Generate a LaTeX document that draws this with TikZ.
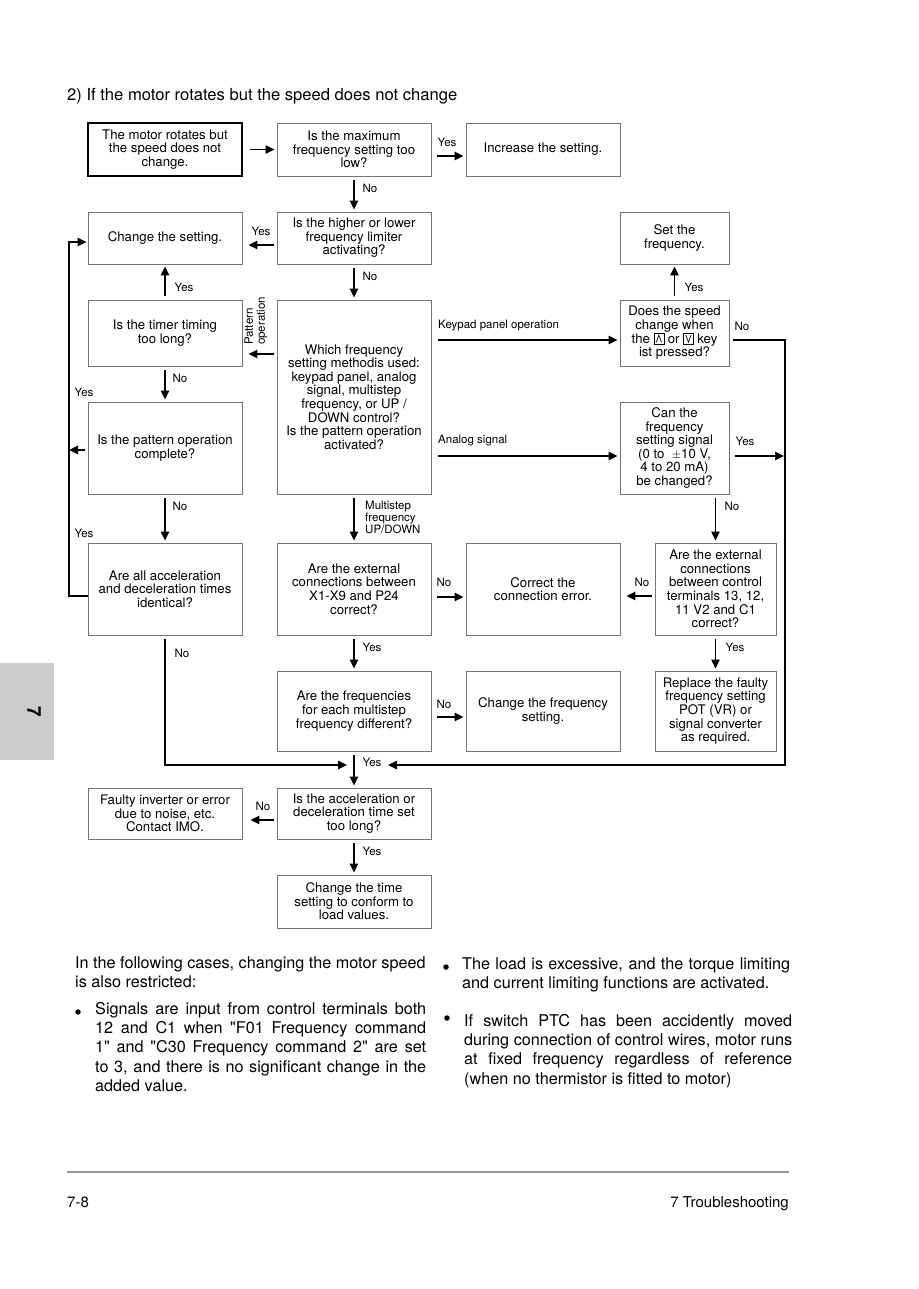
\documentclass[tikz,border=0pt]{standalone}
\usepackage{fontspec}
\setmainfont{TeX Gyre Heros}
\newfontfamily\qfont{TeX Gyre Heros}
\usepackage{tikz}
\usetikzlibrary{calc,arrows.meta}

\newcommand{\kbox}[1]{\tikz[baseline=0pt,x=1pt,y=1pt]{\draw[line width=0.5pt] (0,-1) rectangle (10,10); \draw[line width=0.7pt] #1;}}
\newcommand{\kup}{\kbox{(2.4,1) -- (5,8) -- (7.6,1)}}
\newcommand{\kdown}{\kbox{(2.4,8) -- (5,1) -- (7.6,8)}}
\newcommand{\dq}{{\qfont"}}
\newcommand{\jline}[1]{\makebox[331pt][s]{#1}}
\newcommand{\rline}[1]{\makebox[328pt][s]{#1}}

\tikzset{
  box/.style={draw=black!55,line width=0.9pt,align=center,inner sep=1pt,font=\fontsize{13.2}{13.6}\selectfont},
  lbl/.style={font=\fontsize{11.5}{12}\selectfont,inner sep=1pt},
  arr/.style={line width=1.4pt,-{Triangle[length=9pt,width=8.5pt]},shorten <=4pt,shorten >=2pt},
  para/.style={font=\fontsize{16.2}{19.4}\selectfont,inner sep=0pt,align=left},
  dot/.style={circle,fill,inner sep=0pt,minimum size=5.5pt},
  foot/.style={font=\fontsize{15}{15}\selectfont,inner sep=0pt}
}

\begin{document}
\begin{tikzpicture}[x=1pt,y=-1pt]
  \useasboundingbox (0,0) rectangle (918,1289);
  \fill[black!20] (0,663) rectangle (54,760);
  \node[font=\fontsize{19}{19}\selectfont\bfseries,rotate=-90] (tab) at (34,712) {7};
  \node[anchor=base west,inner sep=0pt,font=\fontsize{16.6}{20}\selectfont] (title) at (67,101) {2)\ If the motor rotates but the speed does not change};

  \node[box,draw=black,line width=1.8pt,minimum width=154pt,minimum height=53pt] (mot) at (165,149.5) {The motor rotates but\\the speed does not\\change.};
  \node[box,minimum width=154pt,minimum height=53pt] (qmax) at (354,149.5) {Is the maximum\\frequency setting too\\low?};
  \node[box,minimum width=154pt,minimum height=53pt] (incr) at (543,149.5) {Increase the setting.};
  \node[box,minimum width=154pt,minimum height=52pt] (chg) at (165,238) {Change the setting.};
  \node[box,minimum width=154pt,minimum height=52pt] (lim) at (354,238) {Is the higher or lower\\frequency limiter\\activating?};
  \node[box,minimum width=109pt,minimum height=52pt] (setf) at (674.5,238) {Set the\\frequency.};
  \node[box,minimum width=154pt,minimum height=66pt] (timer) at (165,333) {Is the timer timing\\too long?};
  \node[box,minimum width=154pt,minimum height=194pt] (which) at (354,397) {Which frequency\\setting methodis used:\\keypad panel, analog\\signal, multistep\\frequency, or UP /\\DOWN control?\\Is the pattern operation\\activated?};
  \node[box,minimum width=109pt,minimum height=66pt] (spd) at (674.5,333) {Does the speed\\change when\\the \kup{} or \kdown{} key\\ist pressed?};
  \node[box,minimum width=154pt,minimum height=92pt] (patt) at (165,448) {Is the pattern operation\\complete?};
  \node[box,minimum width=109pt,minimum height=92pt] (canf) at (674.5,448) {Can the\\frequency\\setting signal\\(0 to \ $\pm$10 V,\\4 to 20 mA)\\be changed?};
  \node[box,minimum width=154pt,minimum height=92pt] (accel) at (165,589) {Are all acceleration\\and deceleration times\\identical?};
  \node[box,minimum width=154pt,minimum height=92pt] (ext) at (354,589) {Are the external\\connections between\\X1-X9 and P24\\correct?};
  \node[box,minimum width=154pt,minimum height=92pt] (cerr) at (543,589) {Correct the\\connection error.};
  \node[box,minimum width=121pt,minimum height=92pt] (ctrl) at (715.5,589) {Are the external\\connections\\between control\\terminals 13, 12,\\11 V2 and C1\\correct?};
  \node[box,minimum width=154pt,minimum height=80pt] (mfreq) at (354,711) {Are the frequencies\\for each multistep\\frequency different?};
  \node[box,minimum width=154pt,minimum height=80pt] (cfreq) at (543,711) {Change the frequency\\setting.};
  \node[box,minimum width=121pt,minimum height=80pt] (repl) at (715.5,711) {Replace the faulty\\frequency setting\\POT (VR) or\\signal converter\\as required.};
  \node[box,minimum width=154pt,minimum height=51pt] (flt) at (165,813.5) {Faulty inverter or error\\due to noise, etc.\\Contact IMO.};
  \node[box,minimum width=154pt,minimum height=51pt] (acct) at (354,813.5) {Is the acceleration or\\deceleration time set\\too long?};
  \node[box,minimum width=154pt,minimum height=53pt] (tset) at (354,901.5) {Change the time\\setting to conform to\\load values.};

  \coordinate (lx) at (69,0);
  \coordinate (rx) at (785,0);
  \coordinate (jn) at (354,765);

  \path[arr] (mot) edge[shorten <=7pt] (qmax)
    (qmax) edge (lim) (lim) edge (which) (timer) edge (chg) (spd) edge (setf)
    (timer) edge (patt) (patt) edge (accel) (which) edge (ext)
    (ext) edge (mfreq) (ctrl) edge (repl) (mfreq) edge (acct) (acct) edge (tset)
    (canf.south -| ctrl) edge (ctrl)
    ([yshift=-6.5pt]qmax.east) edge[shorten <=6pt] ([yshift=-6.5pt]incr.west)
    ([yshift=-7pt]lim.west) edge[shorten <=3pt,shorten >=6pt] ([yshift=-7pt]chg.east)
    ([yshift=-21pt]timer.east -| which.west) edge[shorten <=3pt,shorten >=6pt] ([yshift=-21pt]timer.east)
    ([yshift=-7pt]spd.west -| which.east) edge[shorten <=7pt] ([yshift=-7pt]spd.west)
    ([yshift=-8pt]canf.west -| which.east) edge[shorten <=7pt] ([yshift=-8pt]canf.west)
    ([yshift=-8pt]canf.east) edge[shorten <=6pt,shorten >=1pt] ([yshift=-8pt]canf.east -| rx)
    ([yshift=-8pt]ext.east) edge[shorten <=6pt] ([yshift=-8pt]cerr.west)
    ([yshift=-7pt]ctrl.west) edge[shorten <=3pt,shorten >=6pt] ([yshift=-7pt]cerr.east)
    ([yshift=-6pt]mfreq.east) edge[shorten <=6pt] ([yshift=-6pt]cfreq.west)
    ([yshift=-6.5pt]acct.west) edge[shorten <=3pt,shorten >=8pt] ([yshift=-6.5pt]flt.east)
    ([yshift=-2pt]patt.west) edge[shorten <=3pt,shorten >=0pt] ([yshift=-2pt]patt.west -| lx);
  \draw[arr,shorten >=34pt] ([yshift=-7pt]spd.east) -- ([yshift=-7pt]spd.east -| rx) |- (jn);
  \draw[arr,shorten >=7pt] (accel.south) |- (jn);
  \draw[arr,shorten <=0pt,shorten >=1pt] ([yshift=-7pt]accel.west) -- ([yshift=-7pt]accel.west -| lx) |- ([yshift=-4pt]chg.west);

  \node[lbl] (y1) at (447,142) {Yes};
  \node[lbl] (n1) at (370,188) {No};
  \node[lbl] (y2) at (261,231) {Yes};
  \node[lbl] (n2) at (370,276) {No};
  \node[lbl] (y3) at (184,287) {Yes};
  \node[lbl] (y4) at (694,287) {Yes};
  \node[lbl,rotate=90,align=left,font=\fontsize{11.5}{12}\selectfont] (pat) at (256,321) {Pattern\\operation};
  \node[lbl,anchor=west] (kp) at (437,326) {Keypad panel operation};
  \node[lbl] (n3) at (742,326) {No};
  \node[lbl] (n4) at (180,378) {No};
  \node[lbl] (y5) at (84,392) {Yes};
  \node[lbl,anchor=west] (an) at (437,441) {Analog signal};
  \node[lbl] (y6) at (745,441) {Yes};
  \node[lbl] (n5) at (180,506) {No};
  \node[lbl,anchor=north west,align=left] (ms) at (364,500) {Multistep\\frequency\\UP/DOWN};
  \node[lbl] (n6) at (732,506) {No};
  \node[lbl] (y7) at (84,533) {Yes};
  \node[lbl] (n7) at (444,582) {No};
  \node[lbl] (n8) at (642,582) {No};
  \node[lbl] (y8) at (372,647) {Yes};
  \node[lbl] (y9) at (735,647) {Yes};
  \node[lbl] (n9) at (182,653) {No};
  \node[lbl] (n10) at (444,704) {No};
  \node[lbl] (y10) at (372,762) {Yes};
  \node[lbl] (n11) at (263,806) {No};
  \node[lbl] (y11) at (372,851) {Yes};

  \node[para,anchor=base west] (intro) at (75,987.4) {In the following cases, changing the motor speed\\is also restricted:};
  \node[dot] (b1) at (78,1012) {};
  \node[para,anchor=base west] (p1) at (95,1091.6) {\jline{Signals are input from control terminals both}\\\jline{12 and C1 when \dq F01 Frequency command}\\\jline{1\dq{} and \dq C30 Frequency command 2\dq{} are set}\\\jline{to 3, and there is no significant change in the}\\added value.};
  \node[dot] (b2) at (446,967) {};
  \node[para,anchor=base west] (p2) at (462,988.4) {\rline{The load is excessive, and the torque limiting}\\and current limiting functions are activated.};
  \node[dot] (b3) at (447,1018) {};
  \node[para,anchor=base west] (p3) at (464,1084.2) {\rline{If switch PTC has been accidently moved}\\\rline{during connection of control wires, motor runs}\\\rline{at fixed frequency regardless of reference}\\(when no thermistor is fitted to motor)};

  \draw[black!40,line width=1.6pt] (67,1172) -- (789,1172);
  \node[foot,anchor=base west] (pg) at (67,1207) {7-8};
  \node[foot,anchor=base east] (ch) at (789,1207) {7 Troubleshooting};
\end{tikzpicture}
\end{document}
